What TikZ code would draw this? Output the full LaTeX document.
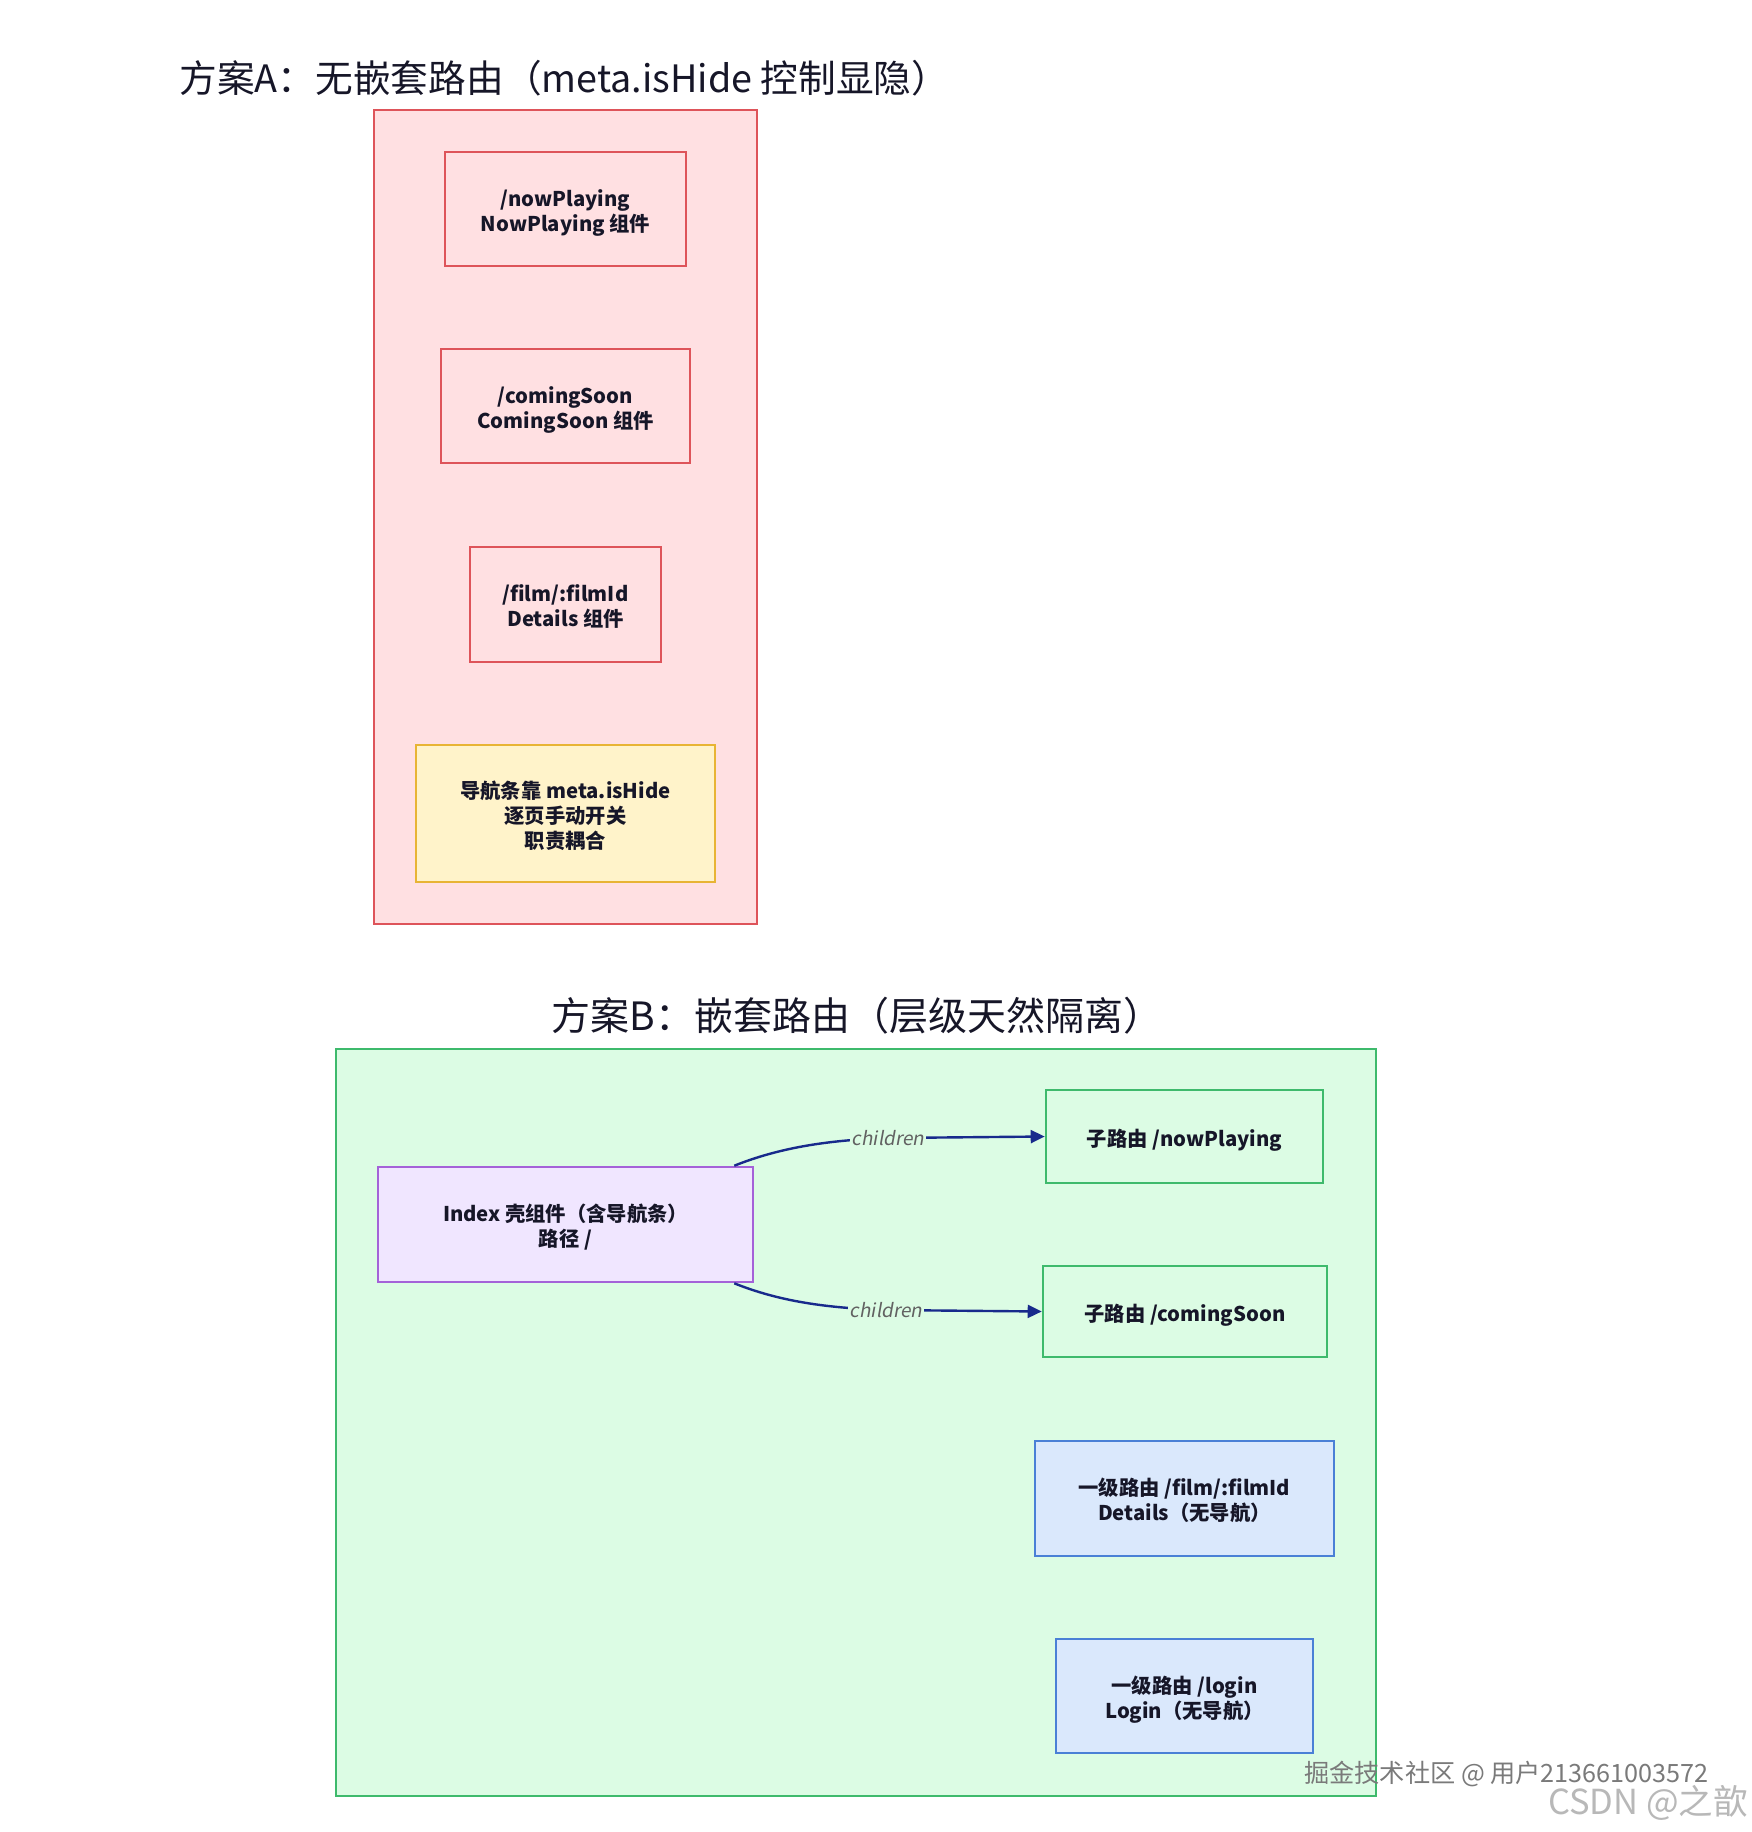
\documentclass[tikz,border=0pt]{standalone}
\usepackage{fontspec}
\setmainfont{Noto Sans CJK SC}
\newfontfamily\cjkit{Noto Sans CJK SC}[FakeSlant=0.18]
\usetikzlibrary{arrows.meta}
\definecolor{ink}{RGB}{22,22,40}
\definecolor{rfill}{RGB}{255,224,226}
\definecolor{rline}{RGB}{222,84,90}
\definecolor{yfill}{RGB}{255,243,202}
\definecolor{yline}{RGB}{232,180,52}
\definecolor{gfill}{RGB}{220,252,228}
\definecolor{gline}{RGB}{62,186,108}
\definecolor{pfill}{RGB}{240,230,255}
\definecolor{pline}{RGB}{164,98,216}
\definecolor{bfill}{RGB}{218,232,252}
\definecolor{bline}{RGB}{74,128,214}
\definecolor{arrowc}{RGB}{24,42,140}
\newcommand\bt[1]{\raisebox{0pt}[\dimexpr\height+9pt\relax][\depth]{\begin{tabular}{@{}c@{}}#1\end{tabular}}}
\begin{document}
\begin{tikzpicture}[x=1pt,y=-1pt,
  outer/.style={draw, line width=2pt, inner sep=0pt},
  box/.style={draw, line width=2.6pt, inner sep=0pt, text=ink,
    font=\bfseries\fontsize{20.3}{25}\selectfont},
  redbox/.style={box, draw=rline, fill=rfill},
  greenbox/.style={box, draw=gline, fill=gfill},
  bluebox/.style={box, draw=bline, fill=bfill},
  title/.style={text=ink, font=\fontsize{39}{44}\selectfont},
  lbl/.style={font=\cjkit\fontsize{19}{22}\selectfont, text=black!62, fill=gfill, inner sep=2pt},
  arr/.style={draw=arrowc, line width=2.4pt, -{Triangle[length=14pt,width=13pt]}},
  wm/.style={inner sep=0pt, font=\fontsize{25.2}{27}\selectfont}
]
\useasboundingbox (0,0) rectangle (1752,1832);
\fill[white] (0,0) rectangle (1752,1832);

% ---- Scheme A ----
\node[title, anchor=west, font=\fontsize{37.7}{42}\selectfont] (titleA) at (176,78) {方案A：无嵌套路由（meta.isHide 控制显隐）};
\node[outer, draw=rline, fill=rfill, minimum width=383pt, minimum height=814pt] (outerA) at (565.5,517) {};
\node[redbox, minimum width=241pt, minimum height=114pt] (npA) at (565.5,209) {\bt{/nowPlaying\\NowPlaying 组件}};
\node[redbox, minimum width=249pt, minimum height=114pt] (csA) at (565.5,406) {\bt{/comingSoon\\ComingSoon 组件}};
\node[redbox, minimum width=191pt, minimum height=115pt] (detA) at (565.5,604.5) {\bt{/film/:filmId\\Details 组件}};
\node[box, draw=yline, fill=yfill, minimum width=299pt, minimum height=137pt] (navA) at (565.5,813.5) {\bt{导航条靠 meta.isHide\\逐页手动开关\\职责耦合}};

% ---- Scheme B ----
\node[title] (titleB) at (857,1016) {方案B：嵌套路由（层级天然隔离）};
\node[outer, draw=gline, fill=gfill, minimum width=1040pt, minimum height=747pt] (outerB) at (856,1422.5) {};
\node[box, draw=pline, fill=pfill, minimum width=375pt, minimum height=115pt] (idx) at (565.5,1224.5) {\bt{Index 壳组件（含导航条）\\路径 /}};
\node[greenbox, minimum width=277pt, minimum height=93pt] (npB) at (1184.5,1136.5) {\bt{子路由 /nowPlaying}};
\node[greenbox, minimum width=284pt, minimum height=91pt] (csB) at (1185,1311.5) {\bt{子路由 /comingSoon}};
\node[bluebox, minimum width=299pt, minimum height=115pt] (detB) at (1184.5,1498.5) {\bt{一级路由 /film/:filmId\\Details（无导航）}};
\node[bluebox, minimum width=257pt, minimum height=114pt] (login) at (1184.5,1696) {\bt{一级路由 /login\\Login（无导航）}};

\coordinate (m1) at (888,1138);
\coordinate (m2) at (886,1310);
\draw[arr] ([xshift=-20pt]idx.north east) .. controls +(45,-18) and +(-60,2) .. (m1) node[lbl] (l1) {children} -- (npB.west);
\draw[arr] ([xshift=-20pt]idx.south east) .. controls +(45,18) and +(-60,-2) .. (m2) node[lbl] (l2) {children} -- (csB.west);

% ---- watermark ----
\node[wm, text=black!52, anchor=east] (wm1) at (1709,1774) {掘金技术社区 @ 用户213661003572};
\node[wm, text=black!28, anchor=east, font=\fontsize{34.5}{37}\selectfont] (wm2) at (1748,1803) {CSDN @之歆};
\end{tikzpicture}
\end{document}
